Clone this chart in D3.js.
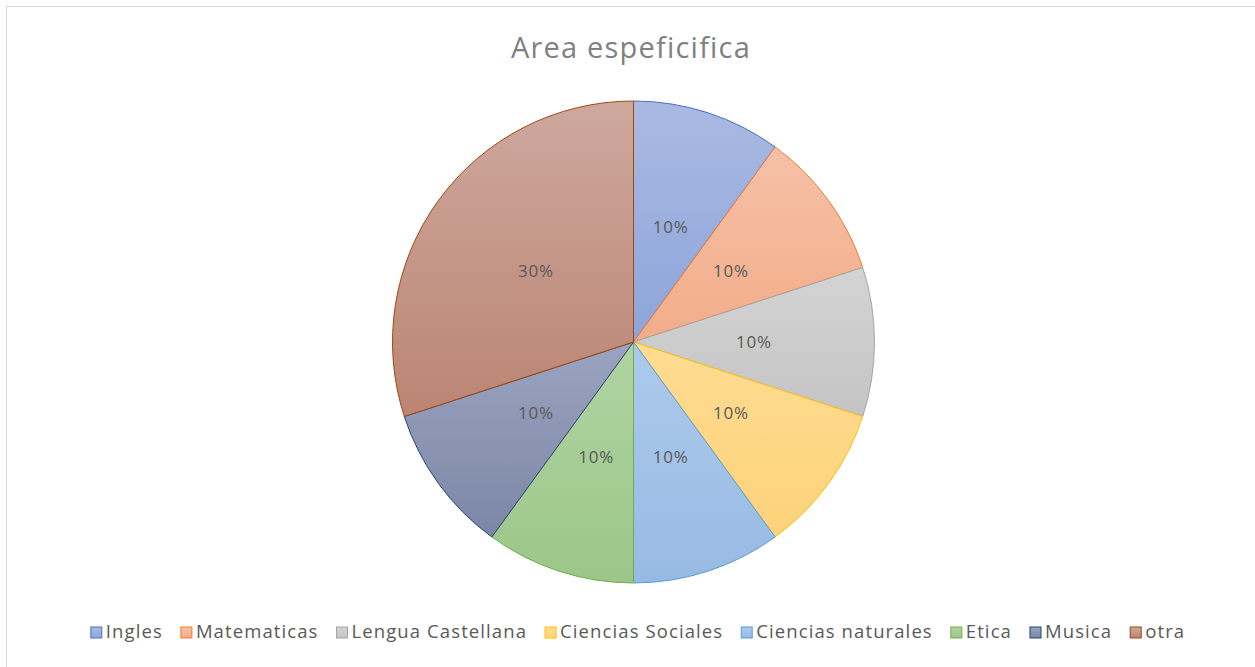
<!DOCTYPE html>
<html>
<head>
<meta charset="utf-8">
<script src="https://cdn.jsdelivr.net/npm/d3@7"></script>
<style>
  html, body { margin: 0; padding: 0; background: #fff; }
  svg { display: block; }
</style>
</head>
<body>
<div id="chart"></div>
<script>
// data
const categories = ["Ingles", "Matematicas", "Lengua Castellana", "Ciencias Sociales", "Ciencias naturales", "Etica", "Musica", "otra"];
const values = [10, 10, 10, 10, 10, 10, 10, 30];
const labels = ["10%", "10%", "10%", "10%", "10%", "10%", "10%", "30%"];
const strokeColors = ["#4472c4", "#ed7d31", "#a5a5a5", "#ffc000", "#5b9bd5", "#70ad47", "#264478", "#9e480e"];
const topColors = ["#aab9e2", "#f6c0a6", "#d4d4d4", "#ffdc92", "#adcaeb", "#b0d4a2", "#9ba4bf", "#cea89e"];
const bottomColors = ["#8da5da", "#f2ad8a", "#c4c4c4", "#fdd27a", "#97bae4", "#9cc689", "#7b86a7", "#bb8573"];

const W = 1255, H = 667;
const cx = 633.5, cy = 342, r = 241;

const svg = d3.select("#chart").append("svg")
    .attr("width", W)
    .attr("height", H);

// chart area border (only top/left visible in the crop)
svg.append("rect")
    .attr("x", 6.5).attr("y", 6.5)
    .attr("width", W + 10).attr("height", H + 10)
    .attr("fill", "#fff")
    .attr("stroke", "#d9d9d9")
    .attr("stroke-width", 1);

// per-slice vertical gradients
const defs = svg.append("defs");
categories.forEach((c, i) => {
    const g = defs.append("linearGradient")
        .attr("id", "grad" + i)
        .attr("x1", 0).attr("y1", 0).attr("x2", 0).attr("y2", 1);
    g.append("stop").attr("offset", "0%").attr("stop-color", topColors[i]);
    g.append("stop").attr("offset", "100%").attr("stop-color", bottomColors[i]);
});

// title
svg.append("text")
    .attr("x", 631)
    .attr("y", 58)
    .attr("text-anchor", "middle")
    .style("font-family", "'Open Sans', sans-serif")
    .style("font-size", "29px")
    .style("letter-spacing", "1.2px")
    .style("fill", "#808080")
    .text("Area espeficifica");

const pie = d3.pie().sort(null).value(d => d);
const arcs = pie(values);
const arc = d3.arc().innerRadius(0).outerRadius(r);
const labelArc = d3.arc().innerRadius(r * 0.5).outerRadius(r * 0.5);

const g = svg.append("g").attr("transform", "translate(" + cx + "," + cy + ")");

g.selectAll("path")
    .data(arcs)
    .enter()
    .append("path")
    .attr("d", arc)
    .attr("fill", (d, i) => "url(#grad" + i + ")")
    .attr("stroke", (d, i) => strokeColors[i])
    .attr("stroke-width", 1)
    .attr("stroke-linejoin", "round");

g.selectAll("text.lbl")
    .data(arcs)
    .enter()
    .append("text")
    .attr("class", "lbl")
    .attr("transform", d => "translate(" + labelArc.centroid(d) + ")")
    .attr("text-anchor", "middle")
    .attr("dy", "0.35em")
    .style("font-family", "'Open Sans', sans-serif")
    .style("font-size", "17px")
    .style("letter-spacing", "0.8px")
    .style("fill", "#595959")
    .text((d, i) => labels[i]);

// legend, laid out from measured text widths and centred
const legend = svg.append("g").attr("class", "legend");
const items = legend.selectAll("g")
    .data(categories)
    .enter()
    .append("g");

items.append("rect")
    .attr("y", -10)
    .attr("width", 11)
    .attr("height", 11)
    .attr("fill", (d, i) => "url(#grad" + i + ")")
    .attr("stroke", (d, i) => strokeColors[i])
    .attr("stroke-width", 1);

items.append("text")
    .attr("x", 15)
    .attr("y", 1)
    .style("font-family", "'Open Sans', sans-serif")
    .style("font-size", "18.5px")
    .style("letter-spacing", "1.1px")
    .style("fill", "#595959")
    .text(d => d);

let xPos = 0;
const gap = 18;
items.each(function () {
    const item = d3.select(this);
    const w = 15 + item.select("text").node().getComputedTextLength();
    item.attr("transform", "translate(" + xPos + ",0)");
    xPos += w + gap;
});
const total = xPos - gap;
legend.attr("transform", "translate(" + (638 - total / 2) + ",637)");
</script>
</body>
</html>
